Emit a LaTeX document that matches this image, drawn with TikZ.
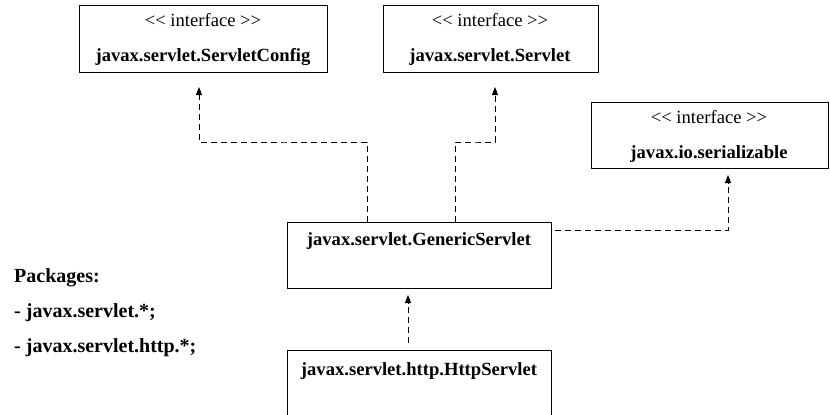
\documentclass[tikz,border=0pt]{standalone}
\usepackage{fontspec}
\setmainfont{Liberation Serif}
\usetikzlibrary{arrows.meta,calc}
\newcommand{\stereotxt}{{<}{<} interface {>}{>}}
\begin{document}
\begin{tikzpicture}[x=1pt,y=-1pt,
  box/.style={draw=black,line width=0.9pt,rectangle,inner sep=0pt,anchor=north west},
  stereo/.style={anchor=base,inner sep=0pt,font=\fontsize{18.6}{22}\selectfont},
  cname/.style={anchor=base,inner sep=0pt,font=\fontsize{18.6}{22}\selectfont\bfseries},
  pkg/.style={anchor=base west,inner sep=0pt,font=\fontsize{20}{24}\selectfont\bfseries},
  dep/.style={line width=0.9pt,dash pattern=on 6pt off 4pt,-{Triangle[width=6pt,length=8pt]}}]
\useasboundingbox[fill=white] (0,0) rectangle (830,415);
% boxes
\node[box,minimum width=248pt,minimum height=67pt] (cfg) at (79,5) {};
\node[box,minimum width=215pt,minimum height=67pt] (srv) at (383,5) {};
\node[box,minimum width=237pt,minimum height=66pt] (ser) at (591,102) {};
\node[box,minimum width=264pt,minimum height=66pt] (gen) at (287,222) {};
\node[box,minimum width=264pt,minimum height=80pt] (http) at (287,350) {};
% texts
\node[stereo] (cfgs) at (203,26) {\stereotxt};
\node[cname] (cfgn) at (203,61) {javax.servlet.ServletConfig};
\node[stereo] (srvs) at (490,26) {\stereotxt};
\node[cname] (srvn) at (490,61) {javax.servlet.Servlet};
\node[stereo] (sers) at (709,123) {\stereotxt};
\node[cname] (sern) at (709,158) {javax.io.serializable};
\node[cname] (genn) at (419,245) {javax.servlet.GenericServlet};
\node[cname] (httpn) at (419,375) {javax.servlet.http.HttpServlet};
\node[pkg] (p0) at (14,282) {Packages:};
\node[pkg] (p1) at (14,317) {- javax.servlet.*;};
\node[pkg] (p2) at (14,352) {- javax.servlet.http.*;};
% connector end points
\coordinate (a1) at (199,87);
\coordinate (a2) at (495,87);
\coordinate (a3) at (728,175);
\coordinate (a4) at (408,295);
\coordinate (g1) at (367,222);
\coordinate (g2) at (455,222);
\coordinate (g3) at (555,230);
\coordinate (h1) at (408,343);
% connectors
\draw[dep] (g1) |- (283,142) -| (a1);
\draw[dep] (g2) |- (475,142) -| (a2);
\draw[dep] (g3) -| (a3);
\draw[dep] (h1) -- (a4);
\end{tikzpicture}
\end{document}
